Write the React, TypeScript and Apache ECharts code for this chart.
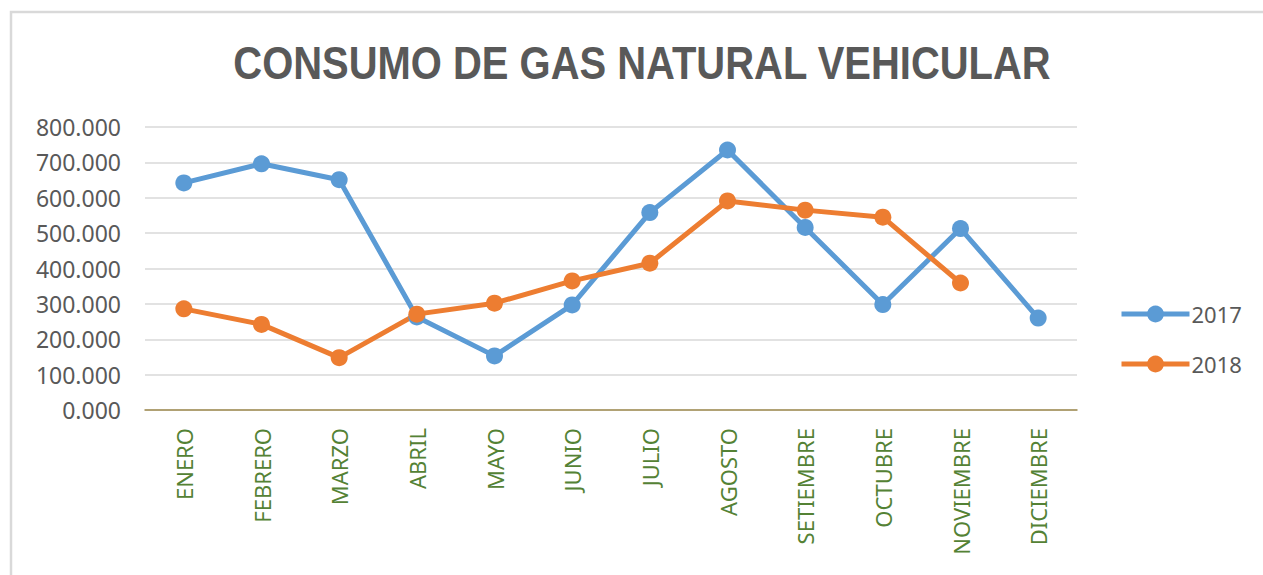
import React, { useEffect, useRef } from "react";
import * as echarts from "echarts";

const title = "CONSUMO DE GAS NATURAL VEHICULAR";
const months = [
  "ENERO", "FEBRERO", "MARZO", "ABRIL", "MAYO", "JUNIO",
  "JULIO", "AGOSTO", "SETIEMBRE", "OCTUBRE", "NOVIEMBRE", "DICIEMBRE",
];
const values2017 = [642, 696, 651, 263, 153, 297, 558, 735, 516, 298, 513, 260];
const values2018 = [286, 242, 148, 271, 302, 365, 415, 591, 565, 545, 359, null];
const seriesNames = ["2017", "2018"];
const yMin = 0;
const yMax = 800;
const yStep = 100;

export default function App() {
  const ref = useRef<HTMLDivElement>(null);
  useEffect(() => {
    if (!ref.current) return;
    const chart = echarts.init(ref.current, null, { renderer: "svg" });
    const lineSeries = (name: string, data: (number | null)[], color: string) => ({
      name,
      type: "line",
      data,
      symbol: "circle",
      symbolSize: 17,
      itemStyle: { color },
      lineStyle: { color, width: 5 },
      connectNulls: false,
    });
    chart.setOption({
      animation: false,
      backgroundColor: "#ffffff",
      graphic: [
        {
          type: "rect",
          shape: { x: 11, y: 12, width: 1300, height: 600 },
          style: { fill: "none", stroke: "#d9d9d9", lineWidth: 2.5 },
          silent: true,
        },
        {
          type: "text",
          x: 642,
          y: 63,
          scaleX: 0.85,
          style: {
            text: title,
            align: "center",
            verticalAlign: "middle",
            fontFamily: "'Liberation Sans', Arial, sans-serif",
            fontWeight: "bold",
            fontSize: 47,
            fill: "#595959",
          },
          silent: true,
        },
      ],
      legend: {
        orient: "vertical",
        left: 1114,
        top: 298,
        itemGap: 28,
        itemWidth: 68,
        itemHeight: 21,
        data: seriesNames,
        lineStyle: { width: 5 },
        textStyle: {
          fontFamily: "'Noto Sans', 'Open Sans', sans-serif",
          fontSize: 22,
          color: "#595959",
          padding: [0, 0, 0, -3],
        },
      },
      grid: { left: 145, right: 186, top: 127, bottom: 165, containLabel: false },
      xAxis: {
        type: "category",
        data: months,
        boundaryGap: true,
        axisLine: { show: true, lineStyle: { color: "#a08c50", width: 1.5 } },
        axisTick: { show: false },
        axisLabel: {
          rotate: 90,
          margin: 18,
          color: "#548235",
          fontSize: 22,
          fontFamily: "'Noto Sans', 'Open Sans', sans-serif",
        },
        splitLine: { show: false },
      },
      yAxis: {
        type: "value",
        min: yMin,
        max: yMax,
        interval: yStep,
        axisLine: { show: false },
        axisTick: { show: false },
        axisLabel: {
          margin: 24,
          color: "#595959",
          fontSize: 23,
          fontFamily: "'Noto Sans', 'Open Sans', sans-serif",
          formatter: (v: number) => v.toFixed(3),
        },
        splitLine: { lineStyle: { color: "#d9d9d9", width: 1.5 } },
      },
      series: [
        lineSeries(seriesNames[0], values2017, "#5b9bd5"),
        lineSeries(seriesNames[1], values2018, "#ed7d31"),
      ],
    });
    return () => chart.dispose();
  }, []);
  return (
    <div
      ref={ref}
      style={{ position: "fixed", left: 0, top: 0, width: 1263, height: 575 }}
    />
  );
}
